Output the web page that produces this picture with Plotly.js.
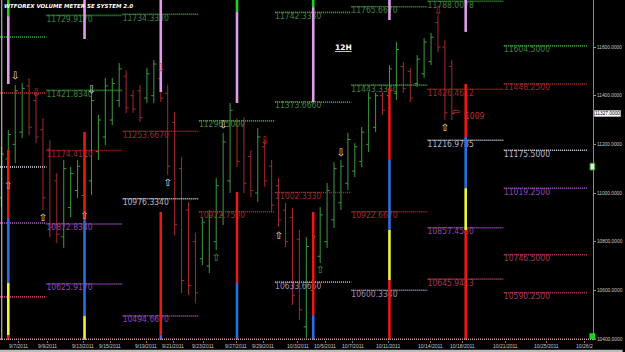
<!DOCTYPE html>
<html><head><meta charset="utf-8">
<script src="https://cdn.plot.ly/plotly-3.0.1.min.js"></script>
<style>html,body{margin:0;padding:0;background:#000;}#chart{width:625px;height:352px;}</style>
</head><body><div id="chart"></div>
<script>
// ---- 12H bars (index along the x axis) ----
const barIdx = [-1,0,1,2,3,4,5,6,7,8,9,10,11,12,13,14,15,16,17,18,19,20,21,22,23,24,25,26,27,28,29,30,31,32,33,34,35,36,37,38,39,40,41,42,43,44,45,46,47,48,49,50,51,52,53,54,55,56,57,58,59,60,61,62,63,64];
const opens  = [10980,11140,11200,11250,11440,11380,11260,11180,11050,10820,10940,11010,10990,11050,11170,11230,11300,11380,11480,11400,11420,11390,11400,11470,11410,11290,11100,10930,10800,10730,10700,10800,10910,11050,11280,11280,11150,11000,11190,11110,11030,10930,10900,10810,10450,10600,10740,10800,10890,10960,11040,11090,11130,11200,11270,11400,11400,11410,11520,11500,11450,11490,11540,11700,11600,11520];
const highs  = [11189,11259,11444,11452,11473,11415,11308,11218,11082,11136,11107,11136,11177,11411,11321,11473,11473,11534,11505,11423,11444,11514,11547,11485,11444,11333,11148,10963,10836,10901,10930,11062,11247,11370,11308,11312,11177,11267,11218,11136,11062,10959,10938,10848,10819,10848,10942,11041,11127,11136,11247,11205,11271,11415,11411,11415,11526,11621,11538,11514,11567,11637,11658,11731,11629,11547];
const lows   = [10942,11127,11123,11226,11238,11205,10930,10819,10794,10774,10901,10979,10950,10992,11136,11197,11279,11353,11329,11329,11292,11370,11370,11374,11074,10827,10589,10581,10548,10704,10671,10766,10868,11000,11107,11000,10983,10963,11025,10922,10860,10778,10540,10478,10404,10560,10712,10774,10856,10930,11012,11066,11107,11168,11251,11321,11382,11382,11411,11374,11436,11473,11526,11579,11300,11300];
const closes = [11160,11240,11420,11430,11270,11230,10980,10860,10830,11100,11080,11110,11150,11380,11300,11440,11450,11510,11350,11345,11310,11490,11530,11390,11110,10870,10640,10620,10590,10880,10900,11030,11210,11340,11130,11040,11010,11230,11050,10950,10890,10800,10580,10520,10780,10820,10910,11010,11100,11110,11220,11190,11250,11390,11400,11340,11510,11590,11430,11390,11550,11620,11640,11600,11330,11327];

// ---- weekly level lines ----
const segStart = [-1.2, 5.5, 16.5, 27.5, 38.5, 49.5, 60.5, 71.5];
const segEnd   = [5.5, 16.5, 27.5, 38.5, 49.5, 60.5, 71.5, 83.5];
const levelSeg  = [0,0,0,0,0, 1,1,1,1,1, 2,2,2,2, 3,3, 4,4,4,4, 5,5,5,5, 6,6,6,6,6, 7,7,7,7,7,7];
const levelVal  = [11641,11411,11107,10877,10573, 11729.917,11421.834,11174.417,10872.834,10625.917, 11734.333,11253.667,10976.334,10494.667, 11296.5,10922.75, 11742.333,11373.666,11002.333,10633.666, 11765.667,11443.334,10922.667,10600.334, 11788.0078,11426.4612,11216.9785,10857.458,10645.9413, 11604.5,11448.25,11175.5,11019.25,10746.5,10590.25];
const levelType = ['H','R','W','M','P', 'H','H','R','M','M', 'H','R','W','M', 'H','R', 'H','H','R','L', 'H','H','R','L', 'H','R','W','M','P', 'H','R','W','M','P','P'];

// ---- volume meter columns ----
const volBar       = [0, 11, 22, 33, 44, 55, 66];
const volCapEnd    = [11727, null, null, 11744, 11764, null, null];
const volTopEnd    = [11448, 11633, 11415, 11370, 11374, 11711, 11662];
const volRedTop    = [11177, 11251, 10922, 11004, 10922, 11431, 11448];
const volBlueTop   = [10897, 10888, 10416, 10630, 10498, 11136, 11230];
const volYellowTop = [10630, 10494, null, null, null, 10848, 11020];
const volLowRedTop = [10416, null, null, null, null, 10642, 10848];

// ---- signal arrows ----
const arrowBar   = [1, 4, 12, 22, 0, 5, 11, 23, 31, 37, 48, 39, 30, 45, 62, 63, 64.6];
const arrowPrice = [11477, 11407, 11423, 11510, 11025, 10897, 10905, 11041, 11279, 11210, 11164, 10823, 10729, 10683, 11748, 11267, 11329];
const arrowDir   = ['down','down','down','down','up','up','up','up','down','down','down','up','up','up','down','up','left'];
const arrowKind  = ['w','r','w','r','o','w','o','w','w','r','w','w','g','g','r','w','r'];

// ---- axis ticks ----
const dateBars   = [1.5, 5.6, 10.8, 14.7, 19.9, 23.8, 28.1, 32.9, 36.8, 41.8, 45.7, 49.7, 54.8, 60.9, 65.6, 71.8, 77.6, 83.2];
const dateLabels = ['9/7/2011','9/9/2011','9/13/2011','9/15/2011','9/19/2011','9/21/2011','9/23/2011','9/27/2011','9/29/2011','10/3/2011','10/5/2011','10/7/2011','10/11/2011','10/14/2011','10/18/2011','10/21/2011','10/25/2011','10/26/2'];
const priceTicks = [10400, 10600, 10800, 11000, 11200, 11400, 11600];
const lastPrice = 11327;

// ================= drawing =================
const Y_TOP = 11793.2, Y_BOT = 10395.9, X_MIN = -1.198, X_MAX = 84.37;
const LBL_FONT = 'DejaVu Sans Condensed, DejaVu Sans Mono, monospace';
const SMALL_FONT = 'Liberation Sans, Arial, sans-serif';
const levelStyle = {
  H:{line:'#3cae43', text:'#3f803f'},
  R:{line:'#c42828', text:'#9a2a2a'},
  W:{line:'#dcdcf0', text:'#b4b4c8'},
  M:{line:'#b45ad2', text:'#9046b0'},
  L:{line:'#b8a0d8', text:'#9a8cb8'},
  P:{line:'#c0406a', text:'#a03858'}
};
const traces = [];

// level lines + labels
Object.keys(levelStyle).forEach(t => {
  const lx=[], ly=[], tx=[], ty=[], tt=[];
  levelVal.forEach((v,i) => {
    if (levelType[i] !== t) return;
    const s = levelSeg[i];
    lx.push(segStart[s], segEnd[s], null); ly.push(v, v, null);
    if (segStart[s] > X_MIN) { tx.push(segStart[s]); ty.push(v); tt.push(v.toFixed(4)); }
  });
  traces.push({type:'scatter', mode:'lines', x:lx, y:ly, line:{color:levelStyle[t].line, width:1.6, dash:'1px,1px'}, hoverinfo:'skip', showlegend:false});
  traces.push({type:'scatter', mode:'text', x:tx, y:ty, text:tt, textposition:'bottom right',
    textfont:{family:LBL_FONT, size:8.5, color:levelStyle[t].text}, hoverinfo:'skip', showlegend:false});
});

// OHLC bars
traces.push({type:'ohlc', x:barIdx, open:opens, high:highs, low:lows, close:closes,
  increasing:{line:{color:'#3f9a3f', width:1}}, decreasing:{line:{color:'#a52a2a', width:1}},
  tickwidth:0.38, hoverinfo:'skip', showlegend:false});

// volume columns
const vol = {violet:{x:[],y:[]}, green:{x:[],y:[]}, red:{x:[],y:[]}, blue:{x:[],y:[]}, yellow:{x:[],y:[]}};
function seg(c, x, a, b){ vol[c].x.push(x, x, null); vol[c].y.push(a, b, null); }
volBar.forEach((b,i) => {
  if (volCapEnd[i] !== null) { seg('green', b, Y_TOP, volCapEnd[i]); seg('violet', b, volCapEnd[i], volTopEnd[i]); }
  else seg('violet', b, Y_TOP, volTopEnd[i]);
  seg('red', b, volRedTop[i], volBlueTop[i]);
  const afterBlue = volYellowTop[i] !== null ? volYellowTop[i] : (volLowRedTop[i] !== null ? volLowRedTop[i] : Y_BOT);
  seg('blue', b, volBlueTop[i], afterBlue);
  if (volYellowTop[i] !== null) seg('yellow', b, volYellowTop[i], volLowRedTop[i] !== null ? volLowRedTop[i] : Y_BOT);
  if (volLowRedTop[i] !== null) seg('red', b, volLowRedTop[i], Y_BOT);
});
const volColor = {violet:'#dc9ee4', green:'#22d022', red:'#e81818', blue:'#2c6ee0', yellow:'#f2f23c'};
Object.keys(vol).forEach(c => traces.push({type:'scatter', mode:'lines', x:vol[c].x, y:vol[c].y,
  line:{color:volColor[c], width:2.6}, hoverinfo:'skip', showlegend:false}));

// arrows
const glyph = {up:'\u21E7', down:'\u21E9', left:'\u21E6'};
const arrowColor = {w:'#e8e8e8', r:'#d83030', g:'#46b046', o:'#d8a870'};
traces.push({type:'scatter', mode:'text', x:arrowBar, y:arrowPrice,
  text:arrowDir.map(d => glyph[d]), textposition:'middle center',
  textfont:{family:'DejaVu Sans', size:10, color:arrowKind.map(k => arrowColor[k])},
  hoverinfo:'skip', showlegend:false});

// date labels just under the plot
const dateAnn = dateBars.map((b,i) => ({x:b, xref:'x', yref:'paper', y:0, yanchor:'top', yshift:-1.5,
  showarrow:false, text:dateLabels[i], borderpad:0, font:{family:SMALL_FONT, size:5, color:'#c8c8c8'}}));

const layout = {
  width:625, height:352,
  margin:{l:0, r:32, t:0, b:12, pad:0},
  paper_bgcolor:'#000', plot_bgcolor:'#000',
  showlegend:false,
  xaxis:{range:[X_MIN, X_MAX], showgrid:false, zeroline:false, rangeslider:{visible:false},
    tickmode:'array', tickvals:dateBars, ticks:'outside', ticklen:2, tickcolor:'#777',
    showticklabels:false, showline:false, fixedrange:true},
  yaxis:{range:[Y_BOT, Y_TOP], side:'right', showgrid:false, zeroline:false,
    tickmode:'array', tickvals:priceTicks, ticktext:priceTicks.map(v => v.toFixed(4)),
    ticks:'outside', ticklen:2, tickcolor:'#999', tickfont:{family:SMALL_FONT, size:4.8, color:'#c8c8c8'},
    showline:true, linecolor:'#8a8a8a', linewidth:1, fixedrange:true},
  shapes:[
    {type:'line', xref:'paper', yref:'paper', x0:0.003, x1:0.003, y0:0, y1:1, line:{color:'#d8d8d8', width:1}},
    {type:'line', xref:'paper', yref:'y', x0:0, x1:1, y0:10398.5, y1:10398.5, line:{color:'#d09a9a', width:1.6, dash:'1px,1px'}},
    {type:'rect', xref:'paper', yref:'paper', x0:0.0, x1:1.05, y0:-0.036, y1:-0.029, line:{width:0}, fillcolor:'#bdbdbd'},
    {type:'rect', xref:'paper', yref:'paper', x0:0.994, x1:1.004, y0:0.002, y1:0.02, line:{width:0}, fillcolor:'#22d022'},
    {type:'rect', xref:'paper', yref:'paper', x0:0.995, x1:1.003, y0:0.5, y1:0.52, line:{color:'#22a022', width:1}, fillcolor:'#e8e8e8'}
  ],
  annotations:[
    {xref:'paper', yref:'paper', x:0.004, y:0.997, xanchor:'left', yanchor:'top', showarrow:false,
      text:'<b><i>WTFOREX VOLUME METER SE SYSTEM 2.0</i></b>', font:{family:'DejaVu Sans', size:5.5, color:'#ffffff'}},
    {x:48.3, y:11600, showarrow:false, text:'<b><u>12H</u></b>', font:{family:'DejaVu Sans', size:7.5, color:'#ffffff'}},
    {xref:'paper', x:1, xanchor:'left', xshift:1, y:lastPrice, showarrow:false, text:lastPrice.toFixed(4),
      bgcolor:'#ffffff', bordercolor:'#888', borderwidth:0.5, borderpad:0.5, font:{family:SMALL_FONT, size:4.8, color:'#000'}},
    {x:65.6, y:11316, xanchor:'left', showarrow:false, text:'1009', font:{family:LBL_FONT, size:8.5, color:'#c43030'}}
  ].concat(dateAnn)
};
Plotly.newPlot('chart', traces, layout, {staticPlot:true, displayModeBar:false});
</script></body></html>
